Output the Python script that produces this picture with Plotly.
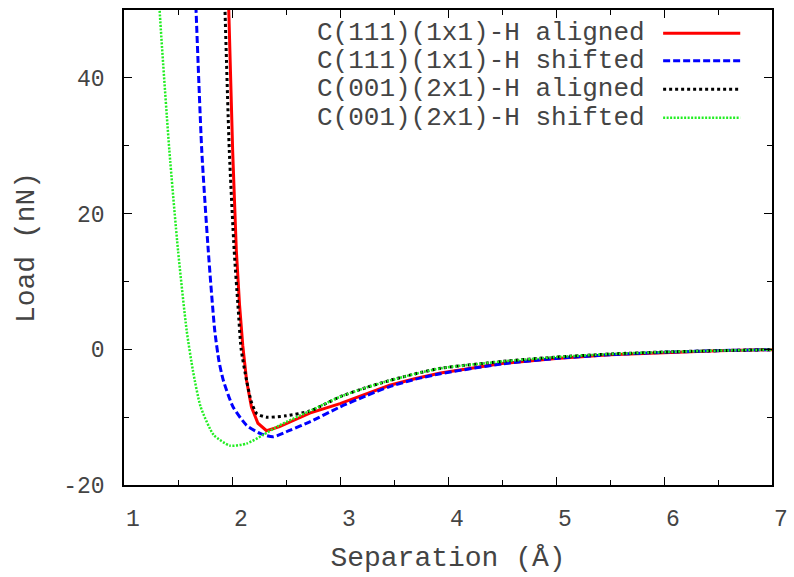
import plotly.graph_objects as go

# ---- data ----
red_x = [1.95, 1.97, 2.006, 2.04, 2.07, 2.10, 2.135, 2.18, 2.24, 2.32, 2.44, 2.54, 2.72, 3.0, 3.25, 3.46, 3.7, 3.93, 4.5, 5.0, 5.5, 6.0, 6.5, 7.0]
red_y = [55, 50, 29.3, 14.6, 6.5, 0.5, -4.6, -8.5, -10.9, -12.0, -11.4, -10.7, -9.4, -8.0, -6.5, -5.3, -4.3, -3.5, -2.1, -1.35, -0.8, -0.45, -0.2, -0.05]

blue_x = [1.655, 1.667, 1.72, 1.78, 1.84, 1.88, 1.92, 2.01, 2.135, 2.26, 2.38, 2.54, 2.72, 3.0, 3.25, 3.46, 3.7, 3.93, 4.5, 5.0, 5.5, 6.0, 6.5, 7.0]
blue_y = [55, 50, 29.3, 14.6, 2.8, -1.8, -4.6, -8.5, -11.2, -12.4, -12.9, -11.9, -10.7, -8.5, -6.8, -5.5, -4.4, -3.6, -2.15, -1.35, -0.8, -0.45, -0.2, -0.05]

black_x = [1.925, 1.935, 1.975, 2.02, 2.055, 2.085, 2.135, 2.18, 2.23, 2.32, 2.5, 2.72, 3.0, 3.25, 3.46, 3.7, 3.93, 4.5, 5.0, 5.5, 6.0, 6.5, 7.0]
black_y = [55, 50, 29.3, 14.6, 6.5, 0.0, -4.6, -7.8, -9.5, -10.0, -9.8, -9.1, -7.0, -5.6, -4.6, -3.6, -2.8, -1.8, -1.15, -0.7, -0.4, -0.2, -0.05]

green_x = [1.32, 1.33, 1.42, 1.50, 1.58, 1.64, 1.71, 1.83, 1.98, 2.135, 2.29, 2.44, 2.72, 3.0, 3.25, 3.46, 3.7, 3.93, 4.5, 5.0, 5.5, 6.0, 6.5, 7.0]
green_y = [55, 50, 29.3, 14.6, 2.8, -3.3, -8.5, -12.6, -14.2, -13.9, -12.6, -11.2, -9.1, -7.0, -5.6, -4.6, -3.6, -2.8, -1.8, -1.15, -0.7, -0.4, -0.2, -0.05]

series_names = ["C(111)(1x1)-H aligned", "C(111)(1x1)-H shifted",
                "C(001)(2x1)-H aligned", "C(001)(2x1)-H shifted"]

x_ticks = [1, 2, 3, 4, 5, 6, 7]
y_ticks = [-20, 0, 20, 40]

# ---- styles ----
styles = [
    dict(color="#ff0000", width=3, dash="solid", shape="linear"),
    dict(color="#0000ff", width=3, dash="7px,3px", shape="spline"),
    dict(color="#000000", width=3, dash="3px,3px", shape="spline"),
    dict(color="#22ee22", width=2.5, dash="2px,1.5px", shape="spline"),
]
data = [(red_x, red_y), (blue_x, blue_y), (black_x, black_y), (green_x, green_y)]

FONT = "Liberation Mono, Courier New, monospace"
TXT = "#444444"

fig = go.Figure()
for (xs, ys), name, st in zip(data, series_names, styles):
    fig.add_trace(go.Scatter(x=xs, y=ys, mode="lines", name=name,
                             line=dict(color=st["color"], width=st["width"], dash=st["dash"],
                                       shape=st["shape"], smoothing=0.6),
                             showlegend=False))

# gnuplot-style legend: right-aligned text with line sample on the right
row_y = [0.951, 0.893, 0.833, 0.773]
for name, st, yy in zip(series_names, styles, row_y):
    fig.add_annotation(x=0.806, y=yy, xref="paper", yref="paper", text=name,
                       showarrow=False, xanchor="right", yanchor="middle",
                       borderpad=0,
                       font=dict(family=FONT, size=26, color=TXT))
    fig.add_shape(type="line", xref="paper", yref="paper",
                  x0=0.832, x1=0.951, y0=yy, y1=yy,
                  line=dict(color=st["color"], width=st["width"], dash=st["dash"]))

axis_common = dict(
    showline=True, linecolor="#000000", linewidth=1.5, mirror="ticks",
    ticks="inside", ticklen=8, tickwidth=1, tickcolor="#000000",
    showgrid=False, zeroline=False, automargin=False,
    tickfont=dict(family=FONT, size=23, color=TXT),
)

fig.update_xaxes(range=[1, 7], tickvals=x_ticks, ticktext=[str(v) for v in x_ticks],
                 minor=dict(dtick=0.5, ticks="inside", ticklen=5, tickcolor="#000000", showgrid=False),
                 title=dict(text="Separation (Å)", font=dict(family=FONT, size=28, color=TXT), standoff=14),
                 ticklabelshift=9, ticklabelstandoff=12,
                 **axis_common)
fig.update_yaxes(range=[-20, 50], tickvals=y_ticks, ticktext=[str(v) for v in y_ticks],
                 minor=dict(dtick=10, tick0=0, ticks="inside", ticklen=5, tickcolor="#000000", showgrid=False),
                 title=dict(text="Load (nN)", font=dict(family=FONT, size=28, color=TXT), standoff=20),
                 ticklabelstandoff=13,
                 **axis_common)

fig.update_layout(
    width=794, height=577,
    margin=dict(l=124, r=22, t=10, b=92),
    paper_bgcolor="white", plot_bgcolor="white",
    showlegend=False,
)

fig.write_html("out.html", config={"displayModeBar": False},
               post_script="document.body.style.margin='0px';")
